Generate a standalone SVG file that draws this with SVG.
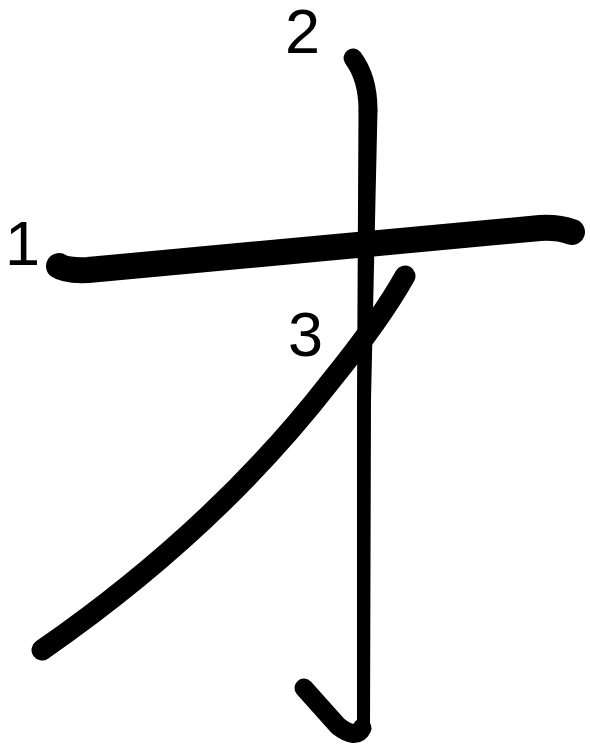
<svg xmlns="http://www.w3.org/2000/svg" width="590" height="748" viewBox="0 0 590 748">
<style>
.s{fill:none;stroke:#000;stroke-linecap:round;stroke-linejoin:round}
.f{fill:#000;stroke:none}
.n{font-family:"Liberation Sans",Arial,sans-serif;font-size:63px;fill:#000}
</style>
<rect width="590" height="748" fill="#fff"/>
<g id="stroke1">
<path class="s" stroke-width="26" d="M59,266 Q66,271 88,270 L540,228 Q558,227 572,232"/>
</g>
<g id="stroke2">
<path class="s" stroke-width="19" d="M353,58 C362,70 368,88 368,110"/>
<path class="f" d="M358.5,110 L357,400 L357,728 L370,728 L371,400 L377.5,110 Z"/>
<path class="s" stroke-width="19" d="M362,728 Q356,740 338,726 L304,688"/>
</g>
<g id="stroke3">
<path class="s" stroke-width="21" d="M405,276 C385,312 360,345 330,382 Q215,530 42,650"/>
</g>
<g id="labels">
<text class="n" x="5" y="265">1</text>
<text class="n" x="285" y="53">2</text>
<text class="n" x="288" y="356">3</text>
</g>
</svg>
